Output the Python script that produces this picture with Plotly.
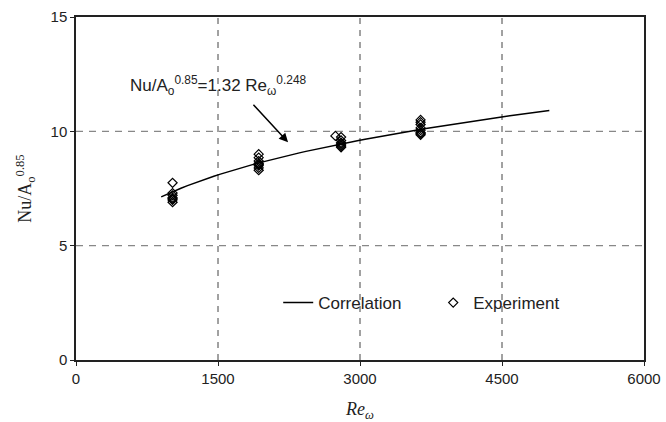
import plotly.graph_objects as go
import numpy as np

# Experimental data (Re_omega, Nu/Ao^0.85)
exp_re = [1020]*7 + [1930]*8 + [2740] + [2800]*7 + [3640]*8
exp_nu = [7.75, 7.3, 7.2, 7.1, 7.05, 7.0, 6.9,
          9.0, 8.85, 8.7, 8.6, 8.55, 8.5, 8.4, 8.3,
          9.8,
          9.75, 9.6, 9.5, 9.45, 9.4, 9.35, 9.3,
          10.5, 10.4, 10.3, 10.15, 10.05, 9.95, 9.9, 9.85]

# Correlation Nu/Ao^0.85 = 1.32 Re^0.248
corr_re = np.linspace(900, 5000, 60)
corr_nu = 1.32 * corr_re ** 0.248

x_ticks = [0, 1500, 3000, 4500, 6000]
y_ticks = [0, 5, 10, 15]

fig = go.Figure()
fig.add_trace(go.Scatter(x=corr_re, y=corr_nu, mode="lines", name="Correlation",
                         line=dict(color="black", width=1.5)))
fig.add_trace(go.Scatter(x=exp_re, y=exp_nu, mode="markers", name="Experiment",
                         marker=dict(symbol="diamond-open", size=7,
                                     color="black", line=dict(width=1.2, color="black"))))

# grid lines
for xv in [1500, 3000, 4500]:
    fig.add_shape(type="line", x0=xv, x1=xv, y0=0, y1=15, xref="x", yref="y",
                  line=dict(color="#444", width=1, dash="6px,6px"), layer="below")
for yv in [5, 10]:
    fig.add_shape(type="line", x0=0, x1=6000, y0=yv, y1=yv, xref="x", yref="y",
                  line=dict(color="#888", width=1.3, dash="7px,6px"), layer="below")

fig.add_annotation(x=2240, y=9.52, ax=-36, ay=-39, axref="pixel", ayref="pixel",
                   showarrow=True, arrowhead=2, arrowsize=1.2, arrowwidth=1.5,
                   arrowcolor="black", text="")
fig.add_annotation(x=0.092, y=12.0, xref="paper", yref="y", showarrow=False, xanchor="left",
                   text="Nu/A<sub>o</sub><sup>0.85</sup>=1.32 Re<sub>ω</sub><sup>0.248</sup>",
                   font=dict(family="Liberation Sans, Arial", size=17, color="#222"))

fig.update_layout(
    width=666, height=422,
    margin=dict(l=76, r=22, t=17, b=62, autoexpand=False),
    paper_bgcolor="white", plot_bgcolor="white",
    font=dict(family="Liberation Sans, Arial", size=15, color="#222"),
    showlegend=True,
    legend=dict(orientation="h", x=0.356, y=0.166, xanchor="left", yanchor="middle",
                bgcolor="rgba(0,0,0,0)", font=dict(size=17), itemwidth=30,
                entrywidthmode="pixels", entrywidth=110),
    xaxis=dict(range=[0, 6000], tickvals=x_ticks, showgrid=False, zeroline=False,
               automargin=False,
               showline=True, linecolor="#222", linewidth=1.5, mirror=True,
               ticks="outside", ticklen=4, tickcolor="#222",
               title=dict(text="<i>Re<sub>ω</sub></i>", standoff=17,
                          font=dict(family="Liberation Serif, Times New Roman", size=18))),
    yaxis=dict(range=[0, 15], tickvals=y_ticks, showgrid=False, zeroline=False,
               automargin=False,
               showline=True, linecolor="#222", linewidth=1.5, mirror=True,
               ticks="outside", ticklen=4, tickcolor="#222",
               title=dict(text="Nu/A<sub>o</sub><sup>0.85</sup>", standoff=14,
                          font=dict(family="Liberation Serif, Times New Roman", size=18))),
)

fig.write_html("out.html", config={"displayModeBar": False},
               post_script="document.body.style.margin='0';document.body.style.overflow='hidden';")
